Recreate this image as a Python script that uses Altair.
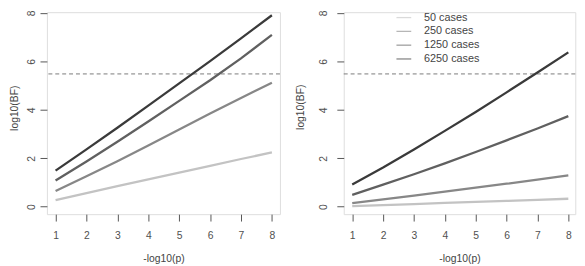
import altair as alt
import pandas as pd

# -log10(p) values
neglog10p = [1, 2, 3, 4, 5, 6, 7, 8]
series = ["50 cases", "250 cases", "1250 cases", "6250 cases"]
colors = ["#c3c3c3", "#878787", "#606060", "#3a3a3a"]

# left panel log10(BF)
left_50 = [0.27, 0.56, 0.85, 1.13, 1.41, 1.69, 1.97, 2.24]
left_250 = [0.65, 1.26, 1.88, 2.53, 3.19, 3.85, 4.49, 5.12]
left_1250 = [1.08, 1.87, 2.68, 3.52, 4.37, 5.22, 6.12, 7.09]
left_6250 = [1.49, 2.37, 3.26, 4.17, 5.09, 6.01, 6.95, 7.90]

# right panel log10(BF)
right_50 = [0.03, 0.07, 0.11, 0.16, 0.20, 0.24, 0.28, 0.33]
right_250 = [0.15, 0.30, 0.46, 0.62, 0.79, 0.95, 1.12, 1.29]
right_1250 = [0.49, 0.91, 1.34, 1.79, 2.26, 2.74, 3.23, 3.74]
right_6250 = [0.92, 1.62, 2.36, 3.13, 3.91, 4.72, 5.54, 6.37]

threshold = [5.48]
y_ticks = [0, 2, 4, 6, 8]

FONT = "Liberation Sans"


def table(cols):
    rows = []
    for name, vals in zip(series, cols):
        for x, v in zip(neglog10p, vals):
            rows.append({"x": x, "value": v, "series": name})
    return pd.DataFrame(rows)


df_left = table([left_50, left_250, left_1250, left_6250])
df_right = table([right_50, right_250, right_1250, right_6250])
df_thr = pd.DataFrame({"value": threshold})


def xaxis():
    return alt.Axis(values=neglog10p, grid=False, domain=False, tickColor="#555",
                    tickSize=7, labelFont=FONT, labelFontSize=10.5, labelColor="#505050",
                    labelBaseline="middle", labelPadding=14.3, labelFlush=False,
                    labelOverlap=False, title="-log10(p)", titleFont=FONT,
                    titleFontSize=10.5, titleFontWeight="normal", titleColor="#444",
                    titleBaseline="middle", titleY=45)


def yaxis(lab_pad, title_x, title_y):
    return alt.Axis(values=y_ticks, grid=False, domain=False, tickColor="#555",
                    tickSize=7, labelFont=FONT, labelFontSize=10.5, labelColor="#505050",
                    labelAngle=270, labelAlign="center", labelBaseline="middle",
                    labelPadding=lab_pad, labelFlush=False, labelOverlap=False,
                    title="log10(BF)", titleFont=FONT, titleFontSize=10.5,
                    titleFontWeight="normal", titleColor="#444", titleAngle=270,
                    titleAlign="center", titleBaseline="middle", titleX=title_x,
                    titleY=title_y)


def panel(df, xdom, width, lab_pad, title_x, title_y, legend):
    lines = alt.Chart(df).mark_line(strokeWidth=2.3).encode(
        x=alt.X("x:Q", scale=alt.Scale(domain=xdom, nice=False, zero=False), axis=xaxis()),
        y=alt.Y("value:Q", scale=alt.Scale(domain=[-0.305, 8.028], nice=False, zero=False),
                axis=yaxis(lab_pad, title_x, title_y)),
        color=alt.Color("series:N", scale=alt.Scale(domain=series, range=colors),
                        sort=series, legend=legend),
        detail="series:N",
    )
    rule = alt.Chart(df_thr).mark_rule(color="#7a7a7a", strokeDash=[4, 3], strokeWidth=1).encode(
        y=alt.Y("value:Q")
    )
    return alt.layer(rule, lines).properties(width=width, height=205)


legend = alt.Legend(orient="none", legendX=52.5, legendY=-3, title=None, symbolType="stroke",
                    symbolSize=225, symbolStrokeWidth=1.3, symbolOpacity=0.6,
                    labelFont=FONT, labelFontSize=11, labelColor="#444", labelOffset=12,
                    rowPadding=-3, padding=0)

left = panel(df_left, [0.72, 8.26], 236.5, 8.25, -33, 97, None)
right = panel(df_right, [0.725, 8.225], 235, 13, -43.4, 96, legend)

chart = alt.hconcat(left, right, spacing=64.25, bounds="flush").resolve_legend(
    color="independent"
).properties(
    padding={"left": 0.5, "top": -1.7, "right": 0, "bottom": 0}
).configure_view(stroke="#555", strokeWidth=1).configure(background="white")

chart.save("out.html", embed_options={"renderer": "svg", "actions": False})
